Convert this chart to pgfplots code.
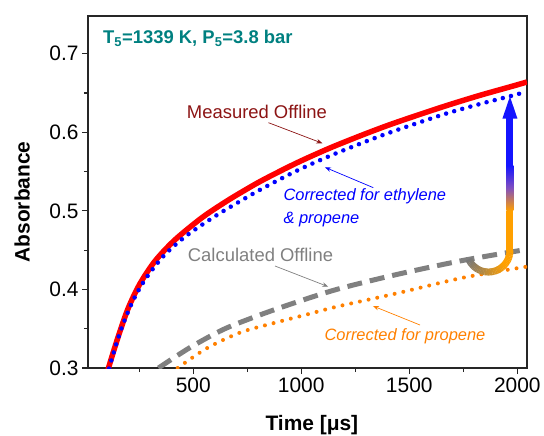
\documentclass[border=0pt]{standalone}
\usepackage{fontspec}
\setmainfont{Liberation Sans}
\usepackage{pgfplots}
\pgfplotsset{compat=1.18}
\usetikzlibrary{arrows.meta}
\definecolor{cred}{RGB}{255,0,0}
\definecolor{cblue}{RGB}{0,0,255}
\definecolor{cgray}{RGB}{128,128,128}
\definecolor{corange}{RGB}{255,128,0}
\definecolor{cdarkred}{RGB}{140,20,20}
\definecolor{cteal}{RGB}{0,128,128}
\definecolor{ugray}{RGB}{120,120,120}
\definecolor{uorange}{RGB}{255,160,0}
\definecolor{ublue}{RGB}{20,20,255}
\definecolor{upurple}{RGB}{130,80,190}
\begin{document}
\begin{tikzpicture}
\begin{axis}[
  scale only axis, width=439bp, height=352bp,
  xmin=13, xmax=2045, ymin=0.3, ymax=0.748,
  xtick={500,1000,1500,2000}, minor xtick={250,750,1250,1750},
  ytick={0.3,0.4,0.5,0.6,0.7}, minor ytick={0.35,0.45,0.55,0.65},
  tick pos=left, tick align=outside,
  major tick length=6bp, minor tick length=4bp,
  axis line style={line width=1.2bp, black!85},
  tick style={line width=1.2bp, black!85},
  ticklabel style={font=\fontsize{21}{25}\selectfont},
  /pgf/number format/assume math mode=true,
  /pgf/number format/1000 sep={},
  yticklabel style={/pgf/number format/fixed, /pgf/number format/precision=1},
  xlabel={Time [μs]}, ylabel={Absorbance},
  label style={font=\bfseries\fontsize{21}{25}\selectfont},
  xlabel style={at={(axis description cs:0.51,-0.1335)}, anchor=north, inner sep=0pt},
  ylabel style={at={(axis description cs:-0.132,0.472)}, anchor=south, inner sep=0pt},
]
% Measured Offline
\addplot[cred, line width=5.5bp, smooth] coordinates {
(96,0.287) (110,0.302) (153,0.340) (199,0.376) (253,0.407) (323,0.436) (415,0.463)
(539,0.491) (647,0.511) (731,0.525) (824,0.5395) (979,0.561) (1133,0.580) (1287,0.597)
(1403,0.609) (1519,0.620) (1673,0.634) (1827,0.647) (1982,0.659) (2045,0.664)};
% Corrected for ethylene & propene
\addplot[cblue, line width=4.5bp, line cap=round, dash pattern=on 0bp off 8.4bp, smooth] coordinates {
(100,0.289) (115,0.304) (161,0.345) (215,0.382) (276,0.412) (361,0.442) (462,0.467)
(600,0.493) (731,0.5145) (824,0.529) (979,0.551) (1133,0.570) (1287,0.587) (1403,0.599)
(1519,0.610) (1673,0.624) (1827,0.636) (1982,0.647) (2045,0.652)};
% Calculated Offline
\addplot[cgray, line width=5bp, dash pattern=on 15bp off 8bp, smooth] coordinates {
(339,0.300) (485,0.326) (639,0.349) (794,0.366) (948,0.381) (1164,0.400) (1442,0.419)
(1750,0.437) (2045,0.451)};
% Corrected for propene
\addplot[corange, line width=4bp, line cap=round, dash pattern=on 0bp off 8.9bp, smooth] coordinates {
(428,0.300) (562,0.325) (716,0.345) (870,0.357) (1025,0.368) (1164,0.378) (1442,0.395)
(1750,0.415) (2045,0.429)};

\node[anchor=west, inner sep=0pt, text=cteal, font=\bfseries\fontsize{18.5}{22}\selectfont]
  at (axis cs:82,0.7194) {T\textsubscript{5}=1339 K, P\textsubscript{5}=3.8 bar};
\node[inner sep=0pt, text=cdarkred, font=\fontsize{18.5}{22}\selectfont]
  at (axis cs:795,0.6262) {Measured Offline};
\draw[cdarkred, line width=0.7bp, -{Stealth[length=6bp,width=4.5bp]}]
  (axis cs:848.5,0.6122) -- (axis cs:1098,0.586);
\node[anchor=west, inner sep=0pt, text=cblue, font=\itshape\fontsize{16.5}{20}\selectfont]
  at (axis cs:917,0.518) {Corrected for ethylene};
\node[anchor=west, inner sep=0pt, text=cblue, font=\itshape\fontsize{16.5}{20}\selectfont]
  at (axis cs:917,0.4884) {\& propene};
\draw[cblue, line width=0.7bp, -{Stealth[length=6bp,width=4.5bp]}]
  (axis cs:1333.6,0.5295) -- (axis cs:1110,0.5554);
\node[inner sep=0pt, text=cgray, font=\fontsize{18.5}{22}\selectfont]
  at (axis cs:811.5,0.4438) {Calculated Offline};
\draw[cgray, line width=0.7bp, -{Stealth[length=6bp,width=4.5bp]}]
  (axis cs:878.6,0.4298) -- (axis cs:1125,0.4035);
\node[inner sep=0pt, text=corange, font=\itshape\fontsize{16.5}{20}\selectfont]
  at (axis cs:1480,0.3407) {Corrected for propene};
\draw[corange, line width=0.7bp, -{Stealth[length=6bp,width=4.5bp]}]
  (axis cs:1550,0.3547) -- (axis cs:1332,0.3789);

\coordinate (S) at (axis cs:1966,0.4495);
\coordinate (BL) at (rel axis cs:0,0);
\coordinate (TR) at (rel axis cs:1,1);
\end{axis}
% gradient arrow
\coordinate (C) at ([xshift=-21.5bp]S);
\foreach \a in {-156,-152,...,-4} {
  \pgfmathtruncatemacro\p{min(100,max(0,(\a+156)*100/111))}
  \draw[line width=7bp, draw=uorange!\p!ugray] ([shift={(\a:21.5bp)}]C) arc[start angle=\a, end angle=\a+4.6, radius=21.5bp];
}
\fill[uorange] ([xshift=-3.5bp]S) rectangle ([xshift=3.5bp,yshift=40bp]S);
\shade[bottom color=uorange, top color=ublue, middle color=upurple] ([xshift=-3.5bp,yshift=39.8bp]S) rectangle ([xshift=3.5bp,yshift=85bp]S);
\fill[ublue] ([xshift=-3.5bp,yshift=84.8bp]S) rectangle ([xshift=3.5bp,yshift=132.2bp]S);
\fill[ublue] ([xshift=-7.5bp,yshift=132bp]S) -- ([xshift=7.5bp,yshift=132bp]S) -- ([yshift=154bp]S) -- cycle;
% bounding box to match the reference margins
\path ([shift={(-88bp,-68bp)}]BL) rectangle ([shift={(17bp,16bp)}]TR);
\end{tikzpicture}
\end{document}
